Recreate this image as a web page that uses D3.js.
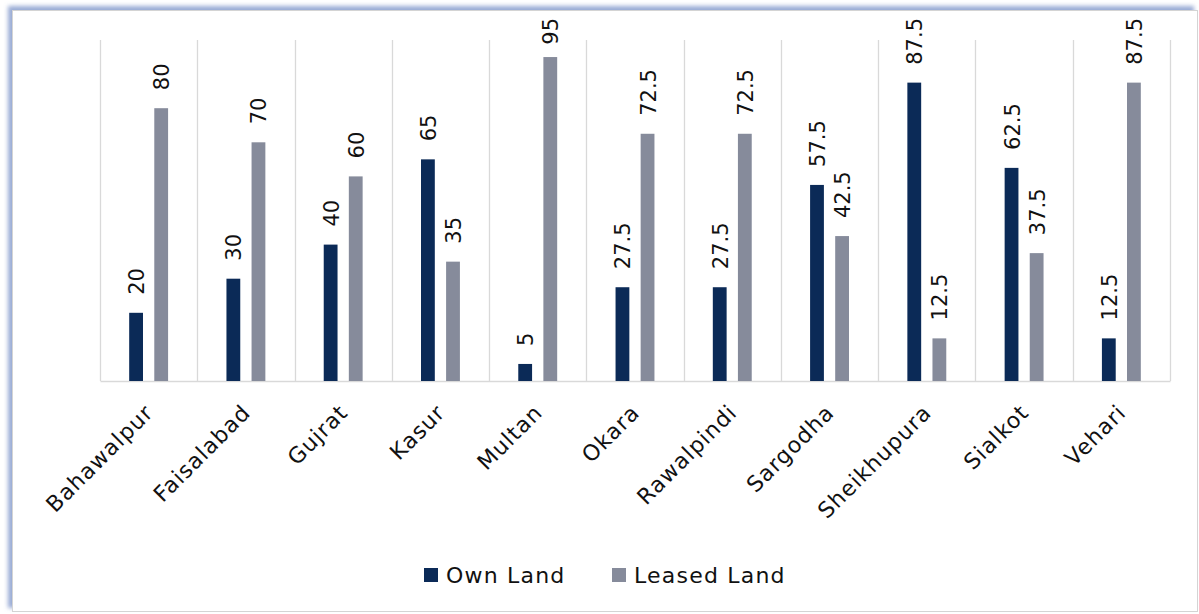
<!DOCTYPE html>
<html>
<head>
<meta charset="utf-8">
<script src="https://cdn.jsdelivr.net/npm/d3@7"></script>
<style>
  html, body { margin: 0; padding: 0; background: #ffffff; }
  svg { display: block; }
  text { font-family: "DejaVu Sans", "Lato", sans-serif; fill: #111; }
</style>
</head>
<body>
<svg id="chart" width="1199" height="614"></svg>
<script>
// Land ownership by district (percent of respondents)
const districts = ["Bahawalpur", "Faisalabad", "Gujrat", "Kasur", "Multan", "Okara",
                   "Rawalpindi", "Sargodha", "Sheikhupura", "Sialkot", "Vehari"];
const ownLand    = [20, 30, 40, 65, 5, 27.5, 27.5, 57.5, 87.5, 62.5, 12.5];
const leasedLand = [80, 70, 60, 35, 95, 72.5, 72.5, 42.5, 12.5, 37.5, 87.5];
const seriesNames = ["Own Land", "Leased Land"];
const seriesColors = ["#0b2a57", "#868b9b"];

const svg = d3.select("#chart");
const W = 1199, H = 614;

// frame with soft blue shadow on top/left edges
const defs = svg.append("defs");
const f = defs.append("filter").attr("id", "shadow")
  .attr("x", "-5%").attr("y", "-5%").attr("width", "110%").attr("height", "110%");
f.append("feDropShadow").attr("dx", -4).attr("dy", -4).attr("stdDeviation", 2.2)
  .attr("flood-color", "#8ea2d0").attr("flood-opacity", 0.9);
svg.append("rect")
  .attr("x", 12.5).attr("y", 10.5).attr("width", W - 14).attr("height", H - 13)
  .attr("fill", "#ffffff").attr("stroke", "#d4d4d4").attr("stroke-width", 1)
  .attr("filter", "url(#shadow)");

const plot = { left: 100, right: 1170, top: 40, bottom: 381 };

const x = d3.scaleBand().domain(districts).range([plot.left, plot.right]).paddingInner(0).paddingOuter(0);
const y = d3.scaleLinear().domain([0, 100]).range([plot.bottom, plot.top]);
const bw = x.bandwidth();
const sub = d3.scaleBand().domain(seriesNames).range([bw * 0.3, bw * 0.7]).paddingInner(0.45).paddingOuter(0);

// vertical category separators
const grid = svg.append("g");
d3.range(districts.length + 1).forEach(i => {
  const gx = Math.round(plot.left + i * bw) + 0.5;
  grid.append("line").attr("x1", gx).attr("x2", gx)
    .attr("y1", plot.top).attr("y2", plot.bottom)
    .attr("stroke", "#d9d9d9").attr("stroke-width", 1.3);
});

// category axis
const xAxis = svg.append("g").attr("transform", `translate(0,${plot.bottom})`)
  .call(d3.axisBottom(x).tickSize(0).tickSizeOuter(0));
xAxis.select(".domain").attr("stroke", "#d9d9d9").attr("stroke-width", 1.5);
xAxis.selectAll(".tick text")
  .attr("font-size", 22)
  .attr("letter-spacing", 1)
  .attr("text-anchor", "end")
  .attr("dx", 0).attr("dy", 0)
  .attr("transform", "translate(6,33) rotate(-45)")
  .attr("x", 0).attr("y", 0)
  .style("font-family", "'DejaVu Sans', sans-serif")
  .style("fill", "#111");

// bars
const data = districts.map((d, i) => ({ d, vals: [ownLand[i], leasedLand[i]] }));
const groups = svg.append("g").selectAll("g").data(data).join("g")
  .attr("transform", r => `translate(${x(r.d)},0)`);

groups.selectAll("rect")
  .data(r => r.vals.map((v, k) => ({ v, s: seriesNames[k], k })))
  .join("rect")
  .attr("x", e => sub(e.s))
  .attr("width", sub.bandwidth())
  .attr("y", e => y(e.v))
  .attr("height", e => y(0) - y(e.v))
  .attr("fill", e => seriesColors[e.k]);

// value labels, rotated, above each bar; kept inside the chart frame near the top
groups.selectAll("text.val")
  .data(r => r.vals.map((v, k) => ({ v, s: seriesNames[k], k })))
  .join("text")
  .attr("class", "val")
  .attr("font-size", 21)
  .attr("text-anchor", "start")
  .text(e => e.v)
  .each(function (e) {
    const len = this.getComputedTextLength();
    const start = Math.max(y(e.v) - 18, 18 + len);
    d3.select(this).attr("transform",
      `translate(${sub(e.s) + sub.bandwidth() / 2 + 8},${start}) rotate(-90)`);
  });

// legend
const legend = svg.append("g").attr("transform", "translate(424,568)");
const items = [{ x: 0 }, { x: 188 }];
seriesNames.forEach((name, k) => {
  const g = legend.append("g").attr("transform", `translate(${items[k].x},0)`);
  g.append("rect").attr("width", 14).attr("height", 14).attr("fill", seriesColors[k]);
  g.append("text").attr("x", 22).attr("y", 15).attr("font-size", 22)
    .attr("letter-spacing", 1.2).text(name);
});
</script>
</body>
</html>
